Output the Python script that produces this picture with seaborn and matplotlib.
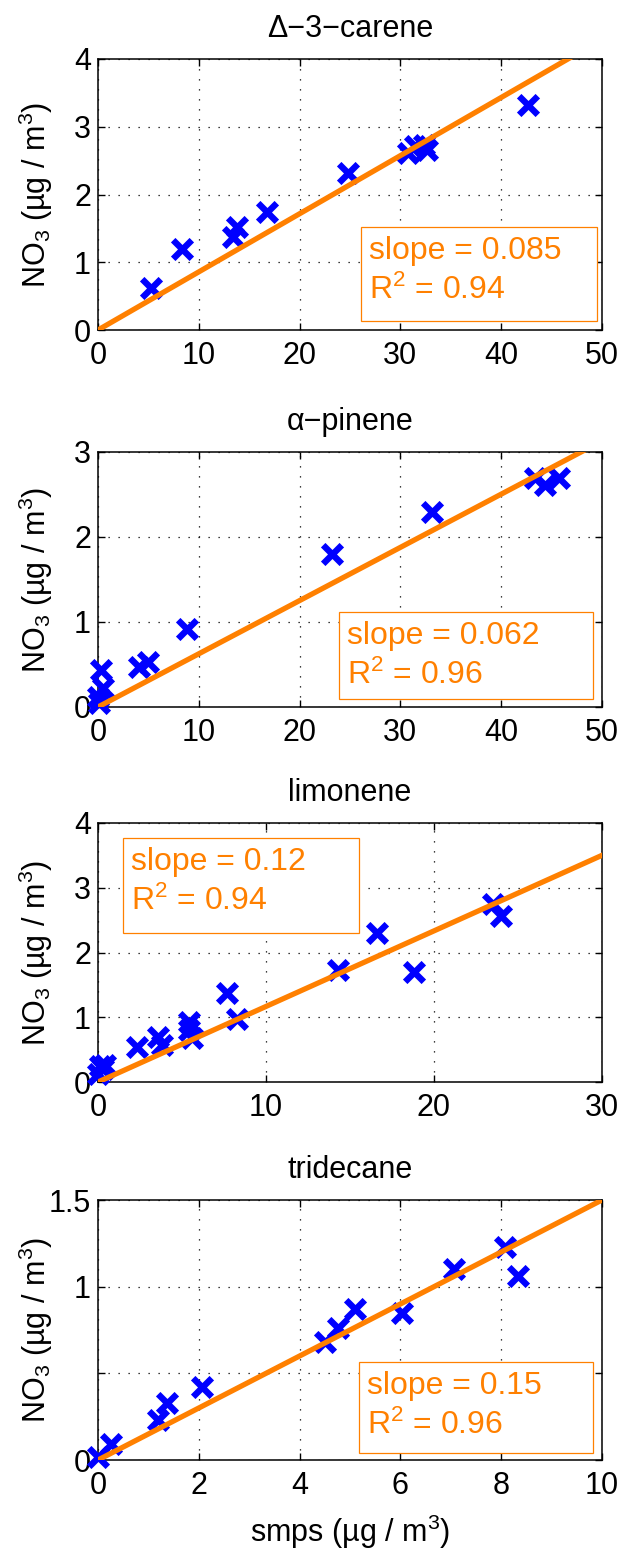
import numpy as np
import pandas as pd
import seaborn as sns
import matplotlib.pyplot as plt
from matplotlib.patches import Rectangle

# values
titles = ['Δ−3−carene', 'α−pinene', 'limonene', 'tridecane']

carene_smps = [5.3, 8.3, 13.4, 13.8, 16.8, 24.8, 30.8, 31.4, 32.3, 32.6, 42.7]
carene_no3 = [0.62, 1.19, 1.38, 1.52, 1.74, 2.31, 2.61, 2.71, 2.73, 2.66, 3.32]

pinene_smps = [0.1, 0.0, 0.5, 0.3, 4.1, 5.0, 8.8, 23.2, 33.1, 43.4, 44.3, 45.7]
pinene_no3 = [0.05, 0.12, 0.22, 0.43, 0.47, 0.53, 0.92, 1.80, 2.29, 2.69, 2.61, 2.69]

limonene_smps = [0.0, 0.1, 0.3, 0.4, 2.3, 3.6, 3.8, 5.4, 5.4, 5.6, 7.7, 8.3,
                 14.3, 16.6, 18.8, 23.5, 24.0]
limonene_no3 = [0.12, 0.25, 0.20, 0.26, 0.54, 0.69, 0.57, 0.93, 0.80, 0.68, 1.37, 0.98,
                1.73, 2.30, 1.70, 2.75, 2.57]

tridecane_smps = [0.0, 0.25, 1.2, 1.36, 2.06, 4.5, 4.77, 5.1, 6.03, 7.06, 8.08, 8.34]
tridecane_no3 = [0.02, 0.09, 0.23, 0.33, 0.42, 0.68, 0.76, 0.87, 0.85, 1.10, 1.23, 1.06]

fit_slopes = [0.0858, 0.0626, 0.1167, 0.15]
slope_labels = ['0.085', '0.062', '0.12', '0.15']
r2_labels = ['0.94', '0.96', '0.94', '0.96']

x_max = [50, 50, 30, 10]
y_max = [4, 3, 4, 1.5]
x_step = [10, 10, 10, 2]
y_ticks = [[0, 1, 2, 3, 4], [0, 1, 2, 3], [0, 1, 2, 3, 4], [0, 0.5, 1, 1.5]]
y_ticklabels = [['0', '1', '2', '3', '4'], ['0', '1', '2', '3'],
                ['0', '1', '2', '3', '4'], ['0', '', '1', '1.5']]

xs = [carene_smps, pinene_smps, limonene_smps, tridecane_smps]
ys = [carene_no3, pinene_no3, limonene_no3, tridecane_no3]

# layout in pixels (top, bottom) of each axes, and the fit box (x0, y0, x1, y1)
W, H = 632, 1550
ax_left, ax_right = 98, 602
ax_rows = [(59, 330), (452, 707), (823, 1082), (1200, 1460)]
boxes = [(361, 227, 597, 321), (339, 612, 593, 699),
         (123, 838, 359, 933), (359, 1362, 593, 1453)]

sns.set_style('ticks')
plt.rcParams['font.family'] = ['Liberation Sans', 'DejaVu Sans']
plt.rcParams['mathtext.default'] = 'regular'
plt.rcParams['text.color'] = 'black'
plt.rcParams['axes.labelcolor'] = 'black'

orange = '#FF8000'
fs = 22

fig = plt.figure(figsize=(W / 100, H / 100), dpi=100)

for i in range(4):
    top, bot = ax_rows[i]
    ax = fig.add_axes([ax_left / W, 1 - bot / H, (ax_right - ax_left) / W, (bot - top) / H])
    df = pd.DataFrame({'smps': xs[i], 'no3': ys[i]})

    sns.scatterplot(data=df, x='smps', y='no3', ax=ax, marker='x', s=180,
                    color='blue', linewidth=4.6, clip_on=False, zorder=3)
    xx = np.array([0, x_max[i] * 1.05])
    sns.lineplot(x=xx, y=fit_slopes[i] * xx, ax=ax, color=orange,
                 linewidth=3.8, zorder=4)

    ax.set_xlim(0, x_max[i])
    ax.set_ylim(0, y_max[i])
    ax.set_xticks(np.arange(0, x_max[i] + 0.01, x_step[i]))
    ax.set_yticks(y_ticks[i])
    ax.set_yticklabels(y_ticklabels[i])
    ax.tick_params(direction='in', length=5, width=1, top=True, right=True,
                   labelsize=fs, colors='black')
    ax.tick_params(axis='x', pad=8)
    ax.tick_params(axis='y', pad=5)
    ax.grid(True, color='black', linestyle=(0, (1, 7)), linewidth=0.9)
    ax.set_axisbelow(True)
    for sp in ax.spines.values():
        sp.set_linewidth(1.1)
        sp.set_color('black')

    ax.set_title(titles[i], fontsize=fs, pad=16, color='black')
    ax.set_ylabel('NO$_3$ (µg / m$^3$)', fontsize=fs, color='black')
    ax.yaxis.set_label_coords(-0.085, 0.5)
    if i == 3:
        ax.set_xlabel('smps (µg / m$^3$)', fontsize=fs, labelpad=8, color='black')
    else:
        ax.set_xlabel('')

    # fit summary box
    bx0, by0, bx1, by1 = boxes[i]
    aw, ah = ax_right - ax_left, bot - top
    fx0 = (bx0 - ax_left) / aw
    fy1 = (bot - by0) / ah
    fy0 = (bot - by1) / ah
    ax.add_patch(Rectangle((fx0, fy0), (bx1 - bx0) / aw, fy1 - fy0,
                           transform=ax.transAxes, facecolor='white',
                           edgecolor=orange, linewidth=0.9, zorder=5))
    tx = fx0 + 8 / aw
    ax.text(tx, fy1 - 24 / ah, 'slope = ' + slope_labels[i], transform=ax.transAxes,
            color=orange, fontsize=fs + 1, va='center', ha='left', zorder=6)
    ax.text(tx, fy1 - 63 / ah, 'R$^2$ = ' + r2_labels[i], transform=ax.transAxes,
            color=orange, fontsize=fs + 1, va='center', ha='left', zorder=6)

fig.savefig('out.png', dpi=100)
